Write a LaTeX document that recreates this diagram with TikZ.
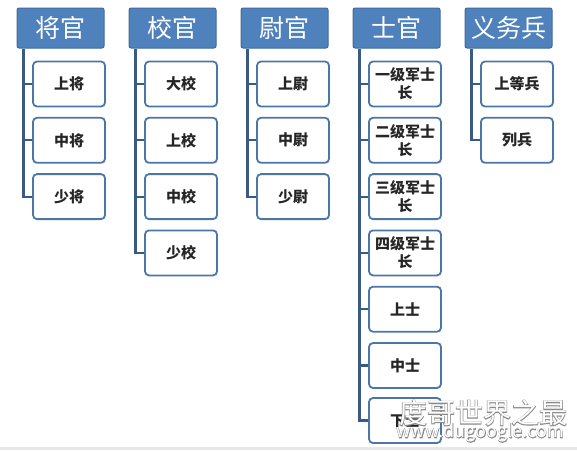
\documentclass[tikz,border=0pt]{standalone}
\usepackage{fontspec}
\setmainfont{Noto Sans CJK SC}
\newfontfamily\wmoutline[FakeBold=4]{Noto Sans CJK SC}
\definecolor{hdr}{HTML}{4F81BD}
\definecolor{hdrb}{HTML}{3F6C9E}
\definecolor{bxb}{HTML}{4A76A8}
\definecolor{cn}{HTML}{3B5A82}
\definecolor{wmo}{HTML}{8A8A8A}
\tikzset{
  hdrbox/.style={draw=hdrb, fill=hdr, line width=1pt, rounded corners=2pt,
    minimum width=87pt, minimum height=40pt, inner sep=0pt, text=white,
    font=\fontsize{25}{28}\selectfont},
  itembox/.style={draw=bxb, fill=white, line width=1.8pt, rounded corners=4pt,
    minimum width=72pt, minimum height=45pt, inner sep=0pt, align=center,
    text=black!85, font=\fontsize{15}{18}\selectfont\bfseries},
  conn/.style={draw=cn, line width=2.2pt},
  wmbig/.style={font=\fontsize{28}{30}\selectfont, inner sep=0pt},
  wmsmall/.style={font=\fontsize{18}{20}\selectfont, inner sep=0pt}
}
\begin{document}
\begin{tikzpicture}[x=1pt,y=-1pt]
\useasboundingbox (0,0) rectangle (577,450);
\fill[white] (0,0) rectangle (577,450);
\fill[gray!18] (0,447) rectangle (577,450);
% headers
\node[hdrbox] (h1) at (60.5,28) {将官};
\node[hdrbox] (h2) at (172.5,28) {校官};
\node[hdrbox] (h3) at (284.5,28) {尉官};
\node[hdrbox] (h4) at (396.5,28) {士官};
\node[hdrbox] (h5) at (508.5,28) {义务兵};
% column 1
\node[itembox] (a1) at (69,84) {上将};
\node[itembox] (a2) at (69,140.3) {中将};
\node[itembox] (a3) at (69,196.6) {少将};
% column 2
\node[itembox] (b1) at (181,84) {大校};
\node[itembox] (b2) at (181,140.3) {上校};
\node[itembox] (b3) at (181,196.6) {中校};
\node[itembox] (b4) at (181,252.9) {少校};
% column 3
\node[itembox] (c1) at (293,84) {上尉};
\node[itembox] (c2) at (293,140.3) {中尉};
\node[itembox] (c3) at (293,196.6) {少尉};
% column 4
\node[itembox] (d1) at (405,84) {一级军士\\长};
\node[itembox] (d2) at (405,140.3) {二级军士\\长};
\node[itembox] (d3) at (405,196.6) {三级军士\\长};
\node[itembox] (d4) at (405,252.9) {四级军士\\长};
\node[itembox] (d5) at (405,309.2) {上士};
\node[itembox] (d6) at (405,365.5) {中士};
\node[itembox] (d7) at (405,420.5) {下士};
% column 5
\node[itembox] (e1) at (517,84) {上等兵};
\node[itembox] (e2) at (517,140.3) {列兵};
% connectors
\foreach \h/\c in {h1/a1,h1/a2,h1/a3,h2/b1,h2/b2,h2/b3,h2/b4,h3/c1,h3/c2,h3/c3,
  h4/d1,h4/d2,h4/d3,h4/d4,h4/d5,h4/d6,h4/d7,h5/e1,h5/e2}
  \draw[conn] ([xshift=7pt,yshift=-0.5pt]\h.south west) |- (\c.west);
% watermark (grey outline under white text)
\node[wmbig, text=wmo] (wmo1) at (483,413) {\wmoutline 度哥世界之最};
\node[wmsmall, text=wmo] (wmo2) at (480,433) {\wmoutline www.dugoogle.com};
\node[wmbig, text=white] (wm) at (483,413) {度哥世界之最};
\node[wmsmall, text=white] (wms) at (480,433) {www.dugoogle.com};
\end{tikzpicture}
\end{document}
